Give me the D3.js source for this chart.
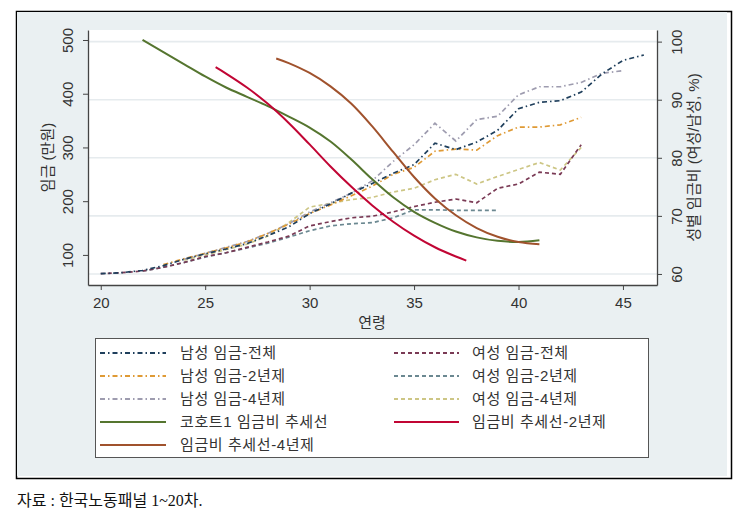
<!DOCTYPE html>
<html><head><meta charset="utf-8">
<script src="https://cdn.jsdelivr.net/npm/d3@7"></script>
<style>
body{margin:0;background:#fff;}
text{font-family:"Liberation Sans","Noto Sans CJK KR",Arial,sans-serif;}
</style></head>
<body><svg id="c" width="750" height="526"></svg>
<script>
// ---- data ----
const xTicks = [20,25,30,35,40,45];
const yLeftTicks = [100,200,300,400,500];
const yRightTicks = [60,70,80,90,100];

const menAllAge = [20,21,22,23,24,25,26,27,28,29,30,31,32,33,34,35,36,37,38,39,40,41,42,43,44,45,46];
const menAll    = [65,67,71,80,92,102,111,121,136,152,177,195,215,233,252,268,308,296,310,332,372,384,387,403,437,462,472];
const men2Age = [23,24,25,26,27,28,29,30,31,32,33,34,35,36,37,38,39,40,41,42,43];
const men2    = [82,93,103,113,124,140,157,177,193,210,228,250,263,293,297,295,322,338,338,342,356];
const men4Age = [24,25,26,27,28,29,30,31,32,33,34,35,36,37,38,39,40,41,42,43,44,45];
const men4    = [92,103,114,125,140,158,180,197,215,238,274,305,345,312,352,358,398,413,413,421,438,443];

const womAllAge = [20,21,22,23,24,25,26,27,28,29,30,31,32,33,34,35,36,37,38,39,40,41,42,43];
const womAll    = [65,67,70,77,86,97,104,114,124,135,154,162,169,172,180,190,198,204,197,224,232,254,250,305];
const wom2Age = [22,23,24,25,26,27,28,29,30,31,32,33,34,35,36,37,38,39];
const wom2    = [70,77,86,96,104,113,122,133,145,154,158,160,169,184,184,183,183,183];
const wom4Age = [24,25,26,27,28,29,30,31,32,33,34,35,36,37,38,39,40,41,42,43];
const wom4    = [90,100,110,120,135,160,189,196,203,207,217,224,240,250,232,246,259,272,258,300];

const ratioCohortAge = [22,23,24,25,26,27,28,29,30,31,32,33,34,35,36,37,38,39,40,41];
const ratioCohort    = [100.3,98.2,96.1,94.0,92.1,90.5,88.9,87.1,85.2,82.8,79.7,76.3,73.2,70.7,68.8,67.3,66.3,65.7,65.5,65.8];
const ratio2Age = [25.5,26,27,28,29,30,31,32,33,34,35,36,37,37.5];
const ratio2    = [95.6,94.5,92.1,89.3,86.0,82.3,78.5,75.0,71.8,69.0,66.6,64.6,63.0,62.3];
const ratio4Age = [28.4,29,30,31,32,33,34,35,36,37,38,39,40,41];
const ratio4    = [97.1,96.3,94.6,92.3,89.3,85.4,81.0,76.7,73.0,70.1,67.9,66.4,65.5,65.1];

// ---- chart ----
const svg = d3.select("#c");
const L=88, R=657, T=30, B=285;
const x = d3.scaleLinear().domain([19.39,46.63]).range([L,R]);
const yL = d3.scaleLinear().domain([44,518.6]).range([B,T]);
const yR = d3.scaleLinear().domain([58.1,102.0]).range([B,T]);

// outer background & frame
svg.append("rect").attr("x",16.5).attr("y",11.5).attr("width",715).attr("height",467)
  .attr("fill","#fff").attr("stroke","#000").attr("stroke-width",1.5);
svg.append("rect").attr("x",17).attr("y",12).attr("width",710).attr("height",464).attr("fill","#eaf0f2");
svg.append("rect").attr("x",L).attr("y",T).attr("width",R-L).attr("height",B-T).attr("fill","#fff");

// gridlines (right axis)
svg.append("g").selectAll("line").data(yRightTicks).join("line")
  .attr("x1",L).attr("x2",R).attr("y1",d=>yR(d)).attr("y2",d=>yR(d))
  .attr("stroke","#e6ebee").attr("stroke-width",1.6);

// axes
const axCol="#444";
const gx = svg.append("g").attr("transform",`translate(0,${B})`)
  .call(d3.axisBottom(x).tickValues(xTicks).tickSize(5).tickPadding(4).tickSizeOuter(0));
const gl = svg.append("g").attr("transform",`translate(${L},0)`)
  .call(d3.axisLeft(yL).tickValues(yLeftTicks).tickSize(5).tickSizeOuter(0));
const gr = svg.append("g").attr("transform",`translate(${R},0)`)
  .call(d3.axisRight(yR).tickValues(yRightTicks).tickSize(5).tickSizeOuter(0));
[gx,gl,gr].forEach(g=>{
  g.select(".domain").attr("stroke",axCol).attr("stroke-width",1.3);
  g.selectAll(".tick line").attr("stroke",axCol);
  g.selectAll(".tick text").attr("fill","#333").style("font-size","15px").style("font-family","Liberation Sans, Arial, sans-serif");
});
gx.selectAll(".tick text").attr("dy","0.9em");
gl.selectAll(".tick text").attr("transform","translate(-15,0) rotate(-90)").attr("text-anchor","middle").attr("x",0).attr("y",0).attr("dy","0");
gr.selectAll(".tick text").attr("transform","translate(25,0) rotate(-90)").attr("text-anchor","middle").attr("x",0).attr("y",0).attr("dy","0");

// axis titles
svg.append("text").attr("x",372).attr("y",328).attr("text-anchor","middle")
  .attr("fill","#333").style("font-size","15px").text("연령");
svg.append("text").attr("transform",`translate(53,${(T+B)/2}) rotate(-90)`).attr("text-anchor","middle")
  .attr("fill","#333").style("font-size","15px").text("임금 (만원)");
svg.append("text").attr("transform",`translate(699,${(T+B)/2}) rotate(-90)`).attr("text-anchor","middle")
  .attr("fill","#333").style("font-size","15px").text("성별 임금비 (여성/남성, %)");

// series
const dashDot="5,3,1.5,3", dash="4,3";
const series = [
  {age:menAllAge, v:menAll, ax:"L", color:"#1f3f5c", dash:dashDot, w:1.7, label:"남성 임금-전체"},
  {age:men2Age, v:men2, ax:"L", color:"#df9a35", dash:dashDot, w:1.7, label:"남성 임금-2년제"},
  {age:men4Age, v:men4, ax:"L", color:"#9e9caf", dash:dashDot, w:1.7, label:"남성 임금-4년제"},
  {age:womAllAge, v:womAll, ax:"L", color:"#7a3a55", dash:dash, w:1.7, label:"여성 임금-전체"},
  {age:wom2Age, v:wom2, ax:"L", color:"#6b8891", dash:dash, w:1.7, label:"여성 임금-2년제"},
  {age:wom4Age, v:wom4, ax:"L", color:"#cdc685", dash:dash, w:1.7, label:"여성 임금-4년제"},
  {age:ratioCohortAge, v:ratioCohort, ax:"R", color:"#55752f", dash:null, w:2, label:"코호트1 임금비 추세선"},
  {age:ratio2Age, v:ratio2, ax:"R", color:"#c10534", dash:null, w:2, label:"임금비 추세선-2년제"},
  {age:ratio4Age, v:ratio4, ax:"R", color:"#a0522d", dash:null, w:2, label:"임금비 추세선-4년제"}
];
const plotOrder = [5,4,3,2,1,0,6,7,8];
plotOrder.forEach(i=>{
  const s=series[i];
  const ys = s.ax==="L"?yL:yR;
  const line = d3.line().x(d=>x(d[0])).y(d=>ys(d[1]))
    .curve(s.ax==="L"?d3.curveLinear:d3.curveCatmullRom.alpha(0.5));
  svg.append("path").datum(s.age.map((a,j)=>[a,s.v[j]]))
    .attr("d",line).attr("fill","none").attr("stroke",s.color)
    .attr("stroke-width",s.w).attr("stroke-dasharray",s.dash);
});

// legend
svg.append("rect").attr("x",95.5).attr("y",338.5).attr("width",553).attr("height",119)
  .attr("fill","#fff").attr("stroke","#555").attr("stroke-width",1);
const col1=[0,1,2,6,8], col2=[3,4,5,7];
const rowY=[353,376,399,422,445];
function legItem(s,ry,sx0,sx1,tx){
  svg.append("line").attr("x1",sx0).attr("x2",sx1).attr("y1",ry).attr("y2",ry)
    .attr("stroke",s.color).attr("stroke-width",s.dash?1.8:2).attr("stroke-dasharray",s.dash);
  svg.append("text").attr("x",tx).attr("y",ry).attr("dy","0.35em").attr("fill","#333")
    .style("font-size","15px").style("letter-spacing","0.6px").text(s.label);
}
col1.forEach((i,k)=>legItem(series[i],rowY[k],100,166,180));
col2.forEach((i,k)=>legItem(series[i],rowY[k],394,459,472));

// source note
svg.append("text").attr("x",17).attr("y",506).attr("fill","#111")
  .style("font-family","'Liberation Serif','Noto Sans CJK KR',serif").style("font-size","16px")
  .text("자료 : 한국노동패널 1~20차.");
</script></body></html>
